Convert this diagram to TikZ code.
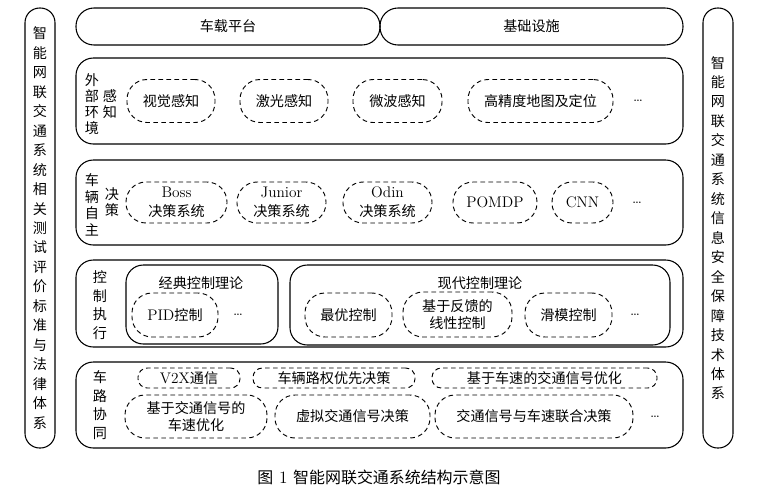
\documentclass[tikz,border=0pt]{standalone}
\usepackage{fontspec}
\newfontfamily\cjk[Scale=0.92]{Noto Sans CJK SC}
\usepackage{tikz}
\usetikzlibrary{positioning}

\begin{document}
\begin{tikzpicture}[x=0.75pt, y=-0.75pt,
    font=\fontsize{11.5}{14}\selectfont,
    layer/.style={draw, line width=0.8pt, rounded corners=13pt, inner sep=0pt},
    dbox/.style={draw, dashed, dash pattern=on 3.5pt off 2.5pt, line width=0.7pt,
        rounded corners=15pt, align=center, inner sep=1pt},
    side/.style={draw, line width=0.8pt, rounded corners=11pt, minimum width=30*0.75pt,
        minimum height=440*0.75pt, inner sep=0pt, align=center,
        font=\fontsize{11.5}{14.6}\selectfont\cjk},
    vlab/.style={align=center, inner sep=0pt, font=\fontsize{11.5}{12}\selectfont\cjk}]
    \useasboundingbox (0,0) rectangle (757,494);

    % side columns
    \node[side] (test) at (40,228) {智\\能\\网\\联\\交\\通\\系\\统\\相\\关\\测\\试\\评\\价\\标\\准\\与\\法\\律\\体\\系};
    \node[side] (secu) at (718,228) {智\\能\\网\\联\\交\\通\\系\\统\\信\\息\\安\\全\\保\\障\\技\\术\\体\\系};

    % top platforms
    \node[layer, rounded corners=13.5pt, minimum width=304*0.75pt, minimum height=37*0.75pt] (plat) at (228,26.5) {\cjk 车载平台};
    \node[layer, rounded corners=13.5pt, minimum width=303*0.75pt, minimum height=37*0.75pt] (infra) at (531.5,26.5) {\cjk 基础设施};

    % layers
    \node[layer, minimum width=607*0.75pt, minimum height=86*0.75pt] (sense) at (379.5,101) {};
    \node[layer, minimum width=607*0.75pt, minimum height=85*0.75pt] (decide) at (379.5,202.5) {};
    \node[layer, minimum width=607*0.75pt, minimum height=87*0.75pt] (ctrl) at (379.5,303.5) {};
    \node[layer, minimum width=607*0.75pt, minimum height=86*0.75pt] (coop) at (379.5,405) {};

    % perception
    \node[vlab] (senseA) at (92,104) {外\\部\\环\\境};
    \node[vlab] (senseB) at (110,104.5) {感\\知};
    \node[dbox, minimum width=88*0.75pt, minimum height=43*0.75pt] (vis) at (171,101) {\cjk 视觉感知};
    \node[dbox, minimum width=88*0.75pt, minimum height=43*0.75pt] (laser) at (284,101) {\cjk 激光感知};
    \node[dbox, minimum width=89*0.75pt, minimum height=43*0.75pt] (micro) at (397.5,101) {\cjk 微波感知};
    \node[dbox, minimum width=145*0.75pt, minimum height=43*0.75pt] (hdmap) at (540.5,101) {\cjk 高精度地图及定位};
    \node (dotsA) at (638,101) {\dots};

    % decision
    \node[vlab, font=\fontsize{11.5}{12.5}\selectfont\cjk] (decA) at (92,205) {车\\辆\\自\\主};
    \node[vlab, font=\fontsize{11.5}{12.5}\selectfont\cjk] (decB) at (112,202) {决\\策};
    \node[dbox, minimum width=101*0.75pt, minimum height=41*0.75pt] (boss) at (176.5,202.5) {Boss\\{\cjk 决策系统}};
    \node[dbox, minimum width=89*0.75pt, minimum height=41*0.75pt] (junior) at (281.5,202.5) {Junior\\{\cjk 决策系统}};
    \node[dbox, minimum width=89*0.75pt, minimum height=41*0.75pt] (odin) at (387.5,202.5) {Odin\\{\cjk 决策系统}};
    \node[dbox, minimum width=84*0.75pt, minimum height=41*0.75pt] (pomdp) at (495,202.5) {POMDP};
    \node[dbox, minimum width=61*0.75pt, minimum height=41*0.75pt] (cnn) at (582.5,202.5) {CNN};
    \node (dotsB) at (637,202.5) {\dots};

    % control
    \node[vlab, font=\fontsize{11.5}{14}\selectfont\cjk] (ctrlA) at (100,305) {控\\制\\执\\行};
    \node[layer, minimum width=152*0.75pt, minimum height=79*0.75pt] (classic) at (202,304.5) {};
    \node[layer, minimum width=380*0.75pt, minimum height=80*0.75pt] (modern) at (480,305) {};
    \node (classicT) at (201,283) {\cjk 经典控制理论};
    \node (modernT) at (480,283) {\cjk 现代控制理论};
    \node[dbox, minimum width=86*0.75pt, minimum height=44*0.75pt] (pid) at (175,315) {PID{\cjk 控制}};
    \node (dotsC) at (238,315) {\dots};
    \node[dbox, minimum width=87*0.75pt, minimum height=44*0.75pt] (opt) at (348.5,315) {\cjk 最优控制};
    \node[dbox, minimum width=109*0.75pt, minimum height=45*0.75pt, font=\fontsize{11.5}{13}\selectfont\cjk] (fb) at (457.5,314.5) {基于反馈的\\线性控制};
    \node[dbox, minimum width=87*0.75pt, minimum height=44*0.75pt] (smc) at (568.5,315) {\cjk 滑模控制};
    \node (dotsD) at (635,315) {\dots};

    % cooperation
    \node[vlab, font=\fontsize{11.5}{14}\selectfont\cjk] (coopA) at (100,405) {车\\路\\协\\同};
    \node[dbox, rounded corners=7pt, minimum width=102*0.75pt, minimum height=20*0.75pt] (v2x) at (189,378) {V2X{\cjk 通信}};
    \node[dbox, rounded corners=7pt, minimum width=162*0.75pt, minimum height=20*0.75pt] (prio) at (334,378) {\cjk 车辆路权优先决策};
    \node[dbox, rounded corners=7pt, minimum width=225*0.75pt, minimum height=20*0.75pt] (sigopt) at (544.5,378) {\cjk 基于车速的交通信号优化};
    \node[dbox, minimum width=142*0.75pt, minimum height=43*0.75pt, font=\fontsize{11.5}{13}\selectfont\cjk] (spdopt) at (196,416.5) {基于交通信号的\\车速优化};
    \node[dbox, minimum width=155*0.75pt, minimum height=43*0.75pt] (vsig) at (352.5,416.5) {\cjk 虚拟交通信号决策};
    \node[dbox, minimum width=198*0.75pt, minimum height=43*0.75pt] (joint) at (534,416.5) {\cjk 交通信号与车速联合决策};
    \node (dotsE) at (655,417) {\dots};

    % caption
    \node[font=\fontsize{13}{15}\selectfont] (cap) at (379,477) {{\cjk 图} 1 {\cjk 智能网联交通系统结构示意图}};
\end{tikzpicture}
\end{document}
